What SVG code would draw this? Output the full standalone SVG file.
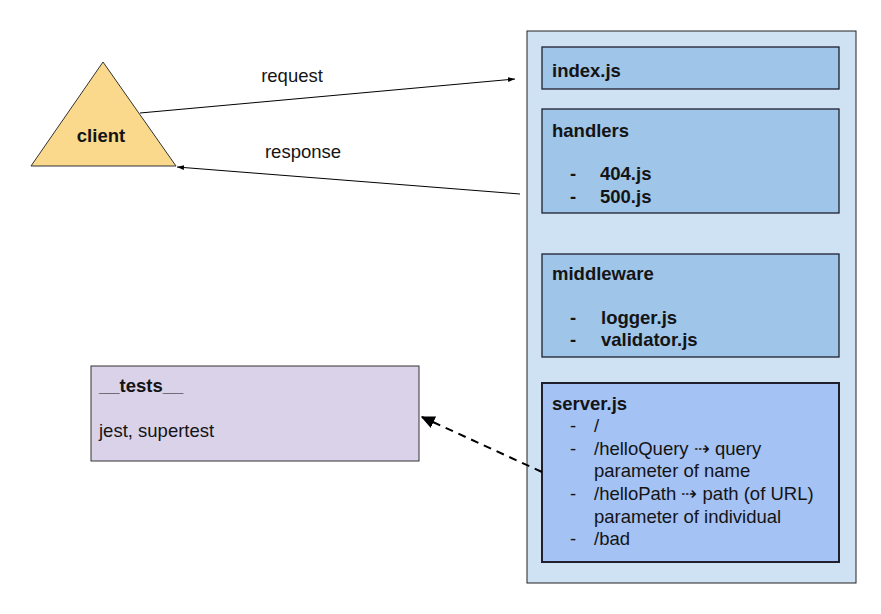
<svg xmlns="http://www.w3.org/2000/svg" width="881" height="614" viewBox="0 0 881 614">
<style>
text{font-family:"Liberation Sans",Arial,sans-serif;font-size:18.5px;fill:#141414}
.b{font-weight:bold}
.box{fill:#9fc5e8;stroke:#1f1f2e;stroke-width:1.3}
.ln{fill:none;stroke:#000;stroke-width:1}
</style>
<defs>
<marker id="ah" viewBox="0 0 10 10" refX="10" refY="5" markerWidth="7" markerHeight="7" markerUnits="userSpaceOnUse" orient="auto">
<path d="M0,1.5 L10,5 L0,8.5 z" fill="#000"/>
</marker>
<marker id="ah2" viewBox="0 0 10 10" refX="9" refY="5" markerWidth="14" markerHeight="14" markerUnits="userSpaceOnUse" orient="auto">
<path d="M0,0.5 L10,5 L0,9.5 z" fill="#000"/>
</marker>
</defs>
<rect width="881" height="614" fill="#fff"/>
<g id="container"><rect x="527" y="31" width="329" height="552" fill="#cfe2f3" stroke="#222" stroke-width="1"/></g>
<g id="index"><rect class="box" x="542" y="47" width="297" height="42" stroke-width="2"/><text class="b" x="552" y="77">index.js</text></g>
<g id="handlers"><rect class="box" x="542" y="109" width="297" height="104"/>
<text class="b" x="552" y="137">handlers</text>
<text class="b" x="570" y="180">-</text><text class="b" x="600" y="180">404.js</text>
<text class="b" x="570" y="203">-</text><text class="b" x="600" y="203">500.js</text></g>
<g id="middleware"><rect class="box" x="542" y="254" width="297" height="103"/>
<text class="b" x="552" y="280">middleware</text>
<text class="b" x="570" y="324">-</text><text class="b" x="601" y="324">logger.js</text>
<text class="b" x="570" y="346">-</text><text class="b" x="601" y="346">validator.js</text></g>
<g id="server"><rect x="542" y="383" width="297" height="179" fill="#a4c2f4" stroke="#1f1f2e" stroke-width="2"/>
<text class="b" x="552" y="410">server.js</text>
<text x="570" y="432">-</text><text x="594" y="432">/</text>
<text x="570" y="455">-</text><text x="594" y="455">/helloQuery ⇢ query</text>
<text x="594" y="477">parameter of name</text>
<text x="570" y="500">-</text><text x="594" y="500">/helloPath ⇢ path (of URL)</text>
<text x="594" y="523">parameter of individual</text>
<text x="570" y="545">-</text><text x="594" y="545">/bad</text></g>
<g id="client"><polygon points="103,62 31,166 176,166" fill="#fad98c" stroke="#333" stroke-width="1"/><text class="b" x="101" y="142" text-anchor="middle">client</text></g>
<g id="tests"><rect x="91" y="366" width="328" height="95" fill="#d9d2e9" stroke="#333" stroke-width="1"/>
<text class="b" x="99" y="392">__tests__</text>
<text x="99" y="437">jest, supertest</text></g>
<g id="connectors">
<line class="ln" x1="140" y1="113" x2="515" y2="79" marker-end="url(#ah)"/>
<text x="292" y="82" text-anchor="middle">request</text>
<line class="ln" x1="520" y1="194" x2="177" y2="167" marker-end="url(#ah)"/>
<text x="303" y="158" text-anchor="middle">response</text>
<line x1="542" y1="472" x2="422" y2="417" stroke="#000" stroke-width="2" stroke-dasharray="8,6" marker-end="url(#ah2)"/>
</g>
</svg>
